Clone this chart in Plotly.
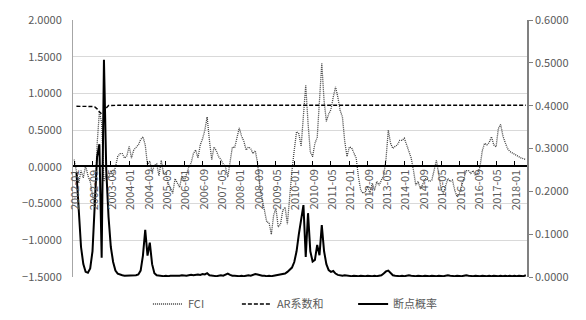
import plotly.graph_objects as go

# ---------------- data ----------------
months = [f"{y}-{m:02d}" for y in range(2002, 2019) for m in range(1, 13)][:198]

tick_labels = ["2002-01", "2002-09", "2003-05", "2004-01", "2004-09", "2005-05",
               "2006-01", "2006-09", "2007-05", "2008-01", "2008-09", "2009-05",
               "2010-01", "2010-09", "2011-05", "2012-01", "2012-09", "2013-05",
               "2014-01", "2014-09", "2015-05", "2016-01", "2016-09", "2017-05",
               "2018-01"]

fci = [
    0.10, -0.05, -0.22, -0.05, -0.15, 0.02, -0.12, -0.20, -0.35, -0.55,
    0.30, 0.75, 0.60, -0.20, -0.10, -0.15, -0.05, -0.12, 0.00, 0.14,
    0.18, 0.18, 0.12, 0.15, 0.28, 0.12, 0.23, 0.26, 0.30, 0.37,
    0.41, 0.30, 0.02, 0.08, -0.07, 0.02, 0.04, -0.12, 0.09, -0.10,
    -0.08, -0.22, -0.28, -0.36, -0.16, -0.23, -0.28, -0.12, -0.20, -0.10,
    0.00, 0.05, 0.18, 0.23, 0.12, 0.30, 0.38, 0.50, 0.68, 0.36,
    0.10, 0.27, 0.22, 0.14, 0.10, 0.04, 0.00, -0.14, 0.10, 0.27,
    0.26, 0.38, 0.53, 0.42, 0.35, 0.23, 0.27, 0.25, 0.18, 0.22,
    0.05, -0.28, -0.45, -0.60, -0.75, -0.76, -0.92, -0.66, -0.56, -0.82,
    -0.78, -0.59, -0.55, -0.78, -0.40, -0.05, 0.23, 0.48, 0.45, 0.28,
    0.70, 1.11, 0.60, 0.20, 0.14, 0.32, 0.40, 0.90, 1.41, 0.90,
    0.62, 0.72, 0.78, 0.95, 1.09, 0.95, 0.77, 0.68, 0.35, 0.14,
    0.27, 0.26, 0.18, 0.12, -0.14, -0.32, -0.36, -0.34, -0.27, -0.36,
    -0.22, -0.32, -0.20, -0.25, -0.18, -0.12, 0.10, 0.50, 0.32, 0.25,
    0.28, 0.30, 0.36, 0.36, 0.39, 0.30, 0.18, 0.12, -0.05, -0.25,
    -0.20, -0.30, -0.24, -0.16, -0.17, -0.20, -0.18, -0.05, 0.09, -0.10,
    -0.30, -0.36, -0.25, -0.16, -0.20, -0.18, -0.32, -0.41, -0.36, -0.26,
    -0.15, -0.05, -0.05, -0.09, -0.05, -0.12, -0.08, 0.00, 0.22, 0.32,
    0.30, 0.33, 0.41, 0.30, 0.27, 0.52, 0.58, 0.42, 0.33, 0.25,
    0.21, 0.19, 0.17, 0.15, 0.13, 0.12, 0.11, 0.10,
]

ar_sum = [
    None, 0.825, 0.825, 0.826, 0.826, 0.825, 0.825, 0.824, 0.822, 0.815,
    0.790, 0.750, 0.720, 0.740, 0.800, 0.835, 0.838, 0.838, 0.838, 0.838,
    0.838, 0.838, 0.838, 0.838, 0.838, 0.838, 0.838, 0.838, 0.838, 0.838,
    0.838, 0.836, 0.830, 0.832, 0.837, 0.838, 0.838, 0.838, 0.838, 0.838,
    0.838, 0.838, 0.838, 0.838, 0.838, 0.838, 0.838, 0.838, 0.838, 0.838,
    0.838, 0.838, 0.838, 0.838, 0.838, 0.838, 0.838, 0.838, 0.838, 0.838,
    0.838, 0.838, 0.838, 0.838, 0.838, 0.838, 0.838, 0.838, 0.838, 0.838,
    0.838, 0.838, 0.838, 0.838, 0.838, 0.838, 0.838, 0.838, 0.838, 0.838,
    0.838, 0.838, 0.838, 0.838, 0.838, 0.838, 0.838, 0.838, 0.838, 0.838,
    0.838, 0.838, 0.838, 0.838, 0.838, 0.838, 0.838, 0.838, 0.838, 0.838,
    0.838, 0.838, 0.838, 0.838, 0.838, 0.838, 0.838, 0.838, 0.838, 0.838,
    0.838, 0.838, 0.838, 0.838, 0.838, 0.838, 0.838, 0.838, 0.838, 0.838,
    0.838, 0.838, 0.838, 0.838, 0.838, 0.838, 0.838, 0.838, 0.838, 0.838,
    0.838, 0.838, 0.838, 0.838, 0.838, 0.838, 0.838, 0.838, 0.838, 0.838,
    0.838, 0.838, 0.838, 0.838, 0.838, 0.838, 0.838, 0.838, 0.838, 0.838,
    0.838, 0.838, 0.838, 0.838, 0.838, 0.838, 0.838, 0.838, 0.838, 0.838,
    0.838, 0.838, 0.838, 0.838, 0.838, 0.838, 0.838, 0.838, 0.838, 0.838,
    0.838, 0.838, 0.838, 0.838, 0.838, 0.838, 0.838, 0.838, 0.838, 0.838,
    0.838, 0.838, 0.838, 0.838, 0.838, 0.838, 0.838, 0.838, 0.838, 0.838,
    0.838, 0.838, 0.838, 0.838, 0.838, 0.838, 0.838, 0.838,
]

break_prob = [
    None, 0.245, 0.150, 0.070, 0.030, 0.012, 0.010, 0.020, 0.060, 0.170,
    0.280, 0.310, 0.045, 0.507, 0.250, 0.140, 0.070, 0.035, 0.015, 0.008,
    0.005, 0.004, 0.003, 0.003, 0.003, 0.004, 0.003, 0.004, 0.006, 0.015,
    0.050, 0.110, 0.050, 0.080, 0.030, 0.009, 0.004, 0.003, 0.003, 0.002,
    0.003, 0.002, 0.003, 0.003, 0.002, 0.003, 0.003, 0.004, 0.003, 0.003,
    0.004, 0.005, 0.004, 0.005, 0.006, 0.005, 0.007, 0.006, 0.009, 0.004,
    0.003, 0.003, 0.002, 0.003, 0.004, 0.003, 0.005, 0.008, 0.005, 0.003,
    0.003, 0.002, 0.002, 0.003, 0.002, 0.003, 0.004, 0.003, 0.005, 0.007,
    0.006, 0.004, 0.003, 0.003, 0.002, 0.003, 0.002, 0.003, 0.004, 0.005,
    0.006, 0.007, 0.008, 0.012, 0.016, 0.022, 0.035, 0.060, 0.100, 0.140,
    0.168, 0.047, 0.149, 0.060, 0.036, 0.040, 0.075, 0.051, 0.121, 0.060,
    0.030, 0.016, 0.012, 0.014, 0.008, 0.005, 0.004, 0.003, 0.004, 0.003,
    0.003, 0.002, 0.003, 0.002, 0.002, 0.003, 0.002, 0.002, 0.003, 0.002,
    0.002, 0.003, 0.002, 0.003, 0.004, 0.008, 0.013, 0.015, 0.009, 0.004,
    0.003, 0.002, 0.002, 0.003, 0.002, 0.003, 0.004, 0.003, 0.002, 0.002,
    0.003, 0.002, 0.002, 0.003, 0.002, 0.002, 0.003, 0.002, 0.002, 0.003,
    0.002, 0.002, 0.003, 0.004, 0.003, 0.002, 0.002, 0.003, 0.002, 0.002,
    0.003, 0.004, 0.003, 0.002, 0.002, 0.003, 0.002, 0.002, 0.003, 0.002,
    0.002, 0.003, 0.002, 0.003, 0.002, 0.002, 0.003, 0.002, 0.003, 0.002,
    0.003, 0.002, 0.003, 0.002, 0.003, 0.002, 0.002, 0.004,
]

left_ticks = [-1.5, -1.0, -0.5, 0.0, 0.5, 1.0, 1.5, 2.0]
right_ticks = [0.0, 0.1, 0.2, 0.3, 0.4, 0.5, 0.6]

FONT = "Noto Sans CJK SC, Noto Sans, sans-serif"
GREY = "#595959"
Y_LO, Y_HI = -1.5, 2.0
ZERO_FRAC = (0 - Y_LO) / (Y_HI - Y_LO)

fig = go.Figure()
# empty helper trace: ties the category axis to a hidden y-axis whose top sits at FCI = 0
fig.add_trace(go.Scatter(x=[], y=[], yaxis="y3", mode="lines", showlegend=False,
                         hoverinfo="skip"))
fig.add_trace(go.Scatter(x=months, y=fci, name="FCI", mode="lines", legend="legend",
                         line=dict(color="#404040", width=1.3, dash="1px,1px")))
fig.add_trace(go.Scatter(x=months, y=ar_sum, name="AR系数和", mode="lines", legend="legend2",
                         line=dict(color="black", width=1.4, dash="4px,2px")))
fig.add_trace(go.Scatter(x=months, y=break_prob, name="断点概率", mode="lines",
                         legend="legend3", yaxis="y2", line=dict(color="black", width=2)))

# category labels hanging below the zero line (rotated, reading upward)
for lab in tick_labels:
    fig.add_annotation(x=lab, y=0, xref="x", yref="y", text=lab, showarrow=False,
                       textangle=-90, xanchor="center", yanchor="top", yshift=-1,
                       font=dict(size=11, color=GREY, family=FONT))

leg_common = dict(orientation="h", y=-0.105, yanchor="middle", xanchor="left",
                  font=dict(size=11, color=GREY), bgcolor="rgba(0,0,0,0)")

fig.update_layout(
    width=586, height=320,
    margin=dict(l=73, r=59, t=20, b=43, autoexpand=False),
    paper_bgcolor="white", plot_bgcolor="rgba(0,0,0,0)",
    font=dict(family=FONT, size=11, color=GREY),
    showlegend=True,
    legend=dict(x=0.165, **leg_common),
    legend2=dict(x=0.361, **leg_common),
    legend3=dict(x=0.617, **leg_common),
    xaxis=dict(type="category", categoryorder="array", categoryarray=months,
               range=[-0.5, 197.5], anchor="y3", side="top",
               showline=True, linecolor="black", linewidth=1.5,
               ticks="outside", ticklen=4, tickcolor="black", tickwidth=1,
               tickmode="array", tickvals=tick_labels, showticklabels=False,
               showgrid=False, zeroline=False),
    yaxis=dict(range=[Y_LO, Y_HI], domain=[0, 1], anchor="x", tickmode="array",
               tickvals=left_ticks, tickformat=".4f", showgrid=True,
               gridcolor="#d9d9d9", gridwidth=1,
               showline=True, linecolor="#a6a6a6", linewidth=1, zeroline=False,
               ticks="", ticklabelstandoff=8, tickfont=dict(size=11, color=GREY)),
    yaxis2=dict(range=[0, 0.6], overlaying="y", side="right", tickmode="array",
                tickvals=right_ticks, tickformat=".4f", showgrid=False,
                showline=True, linecolor="#808080", linewidth=1.5, zeroline=False,
                ticks="outside", ticklen=4, tickcolor="#808080",
                tickfont=dict(size=11, color=GREY)),
    yaxis3=dict(domain=[0, ZERO_FRAC], anchor="x", range=[0, 1], showgrid=False,
                showline=False, zeroline=False, showticklabels=False, ticks=""),
)

fig.write_html("out.html", config={"displayModeBar": False},
               post_script="document.body.style.margin='0';")
